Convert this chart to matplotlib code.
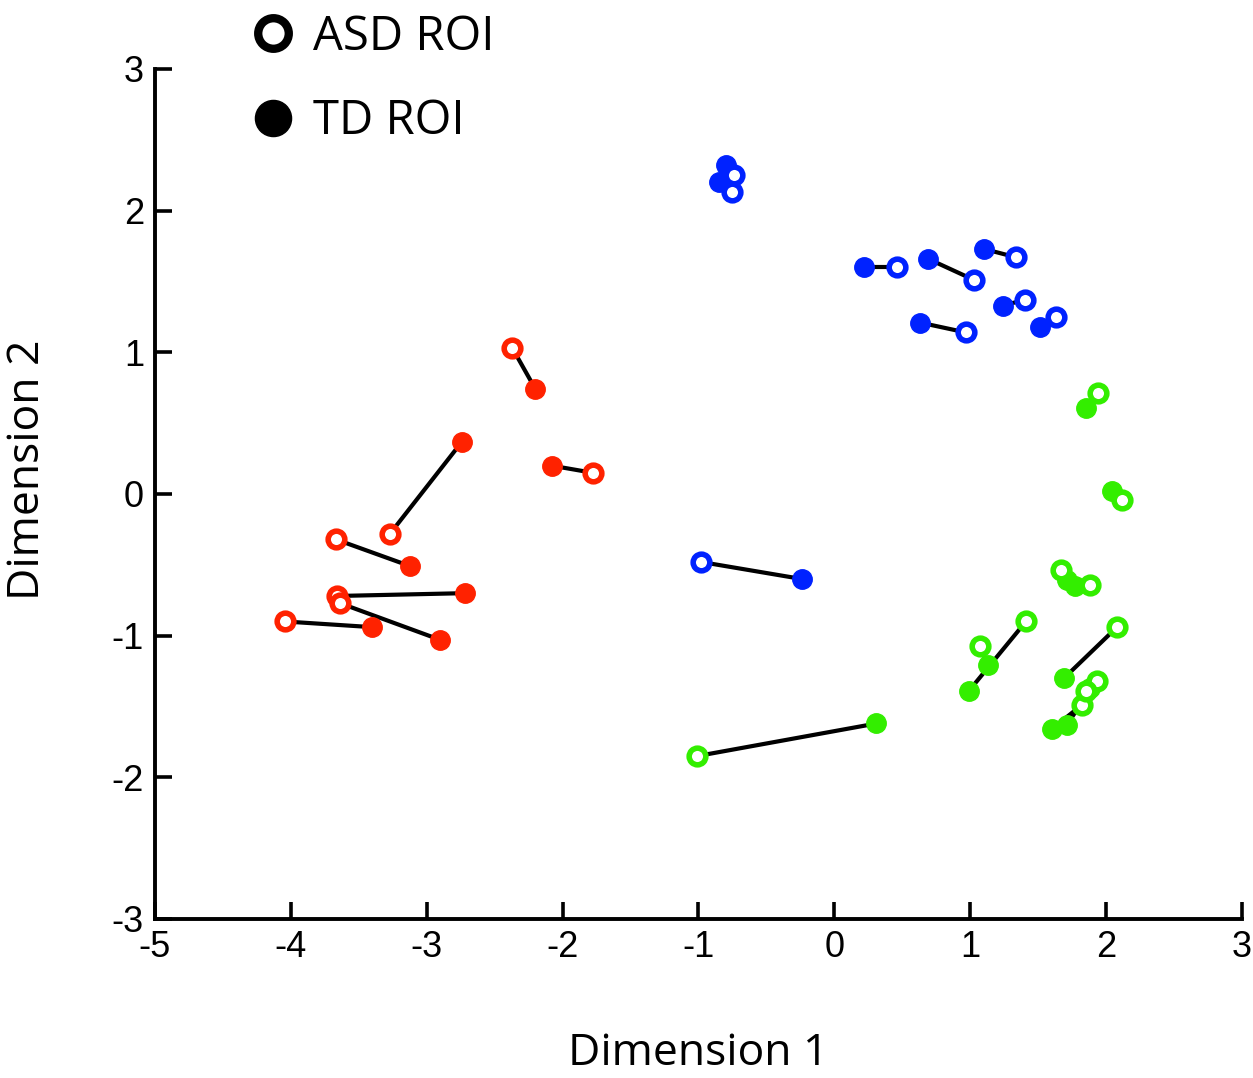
import matplotlib.pyplot as plt
from matplotlib.lines import Line2D

plt.rcParams['axes.unicode_minus'] = False
plt.rcParams['font.family'] = ['Liberation Sans', 'DejaVu Sans']

# paired ROI positions (ASD open, TD filled), one pair per index
red_asd_x = [-2.37, -3.27, -1.78, -3.67, -3.66, -3.64, -4.04]
red_asd_y = [1.03, -0.28, 0.15, -0.32, -0.72, -0.77, -0.90]
red_td_x = [-2.20, -2.74, -2.08, -3.12, -2.72, -2.90, -3.40]
red_td_y = [0.74, 0.37, 0.20, -0.51, -0.70, -1.03, -0.94]

blue_asd_x = [-0.74, -0.75, 0.46, 1.03, 1.34, 1.40, 1.63, 0.97, -0.98]
blue_asd_y = [2.25, 2.13, 1.60, 1.51, 1.67, 1.37, 1.25, 1.14, -0.48]
blue_td_x = [-0.80, -0.85, 0.22, 0.69, 1.10, 1.24, 1.51, 0.63, -0.24]
blue_td_y = [2.32, 2.20, 1.60, 1.66, 1.73, 1.33, 1.18, 1.21, -0.60]

green_asd_x = [1.94, 2.12, 1.67, 1.88, 1.41, 1.07, 2.08, 1.82, 1.93, 1.85, -1.01]
green_asd_y = [0.71, -0.04, -0.54, -0.64, -0.90, -1.07, -0.94, -1.49, -1.32, -1.39, -1.85]
green_td_x = [1.85, 2.04, 1.71, 1.77, 0.99, 1.13, 1.69, 1.60, 1.71, 1.88, 0.31]
green_td_y = [0.61, 0.02, -0.61, -0.65, -1.39, -1.21, -1.30, -1.66, -1.63, -1.37, -1.62]

groups = [
    ('#ff2200', red_asd_x, red_asd_y, red_td_x, red_td_y),
    ('#0022ff', blue_asd_x, blue_asd_y, blue_td_x, blue_td_y),
    ('#33ee00', green_asd_x, green_asd_y, green_td_x, green_td_y),
]

fig = plt.figure(figsize=(12.53, 10.78), dpi=100)
ax = fig.add_axes([0.1237, 0.1475, 0.8675, 0.7885])

# connecting lines first, then TD (filled), then ASD (open) on top
for color, ax_, ay_, tx_, ty_ in groups:
    for a, b, c, d in zip(ax_, ay_, tx_, ty_):
        ax.plot([a, c], [b, d], color='black', lw=3.0, zorder=1)
for color, ax_, ay_, tx_, ty_ in groups:
    ax.plot(tx_, ty_, 'o', color=color, ms=14, mec=color, ls='none', zorder=2)
for color, ax_, ay_, tx_, ty_ in groups:
    ax.plot(ax_, ay_, 'o', mfc='white', mec=color, mew=4, ms=12, ls='none', zorder=3)

ax.set_xlim(-5, 3)
ax.set_ylim(-3, 3)
ax.set_xticks(range(-5, 4))
ax.set_yticks(range(-3, 4))
for s in ['top', 'right']:
    ax.spines[s].set_visible(False)
for s in ['left', 'bottom']:
    ax.spines[s].set_linewidth(2.8)
ax.tick_params(direction='in', length=12, width=2.6, labelsize=26, pad=8)

ax.set_xlabel('Dimension 1', fontsize=32, family='Open Sans', labelpad=48)
ax.set_ylabel('Dimension 2', fontsize=32, family='Open Sans')
ax.yaxis.set_label_coords(-0.097, 0.528)

handles = [
    Line2D([], [], marker='o', ls='none', mfc='white', mec='black', mew=6, ms=22),
    Line2D([], [], marker='o', ls='none', color='black', ms=26),
]
fig.legend(handles, ['ASD ROI', 'TD ROI'], loc='upper left',
           bbox_to_anchor=(0.169, 1.027), frameon=False,
           prop={'family': 'Open Sans', 'size': 34},
           handlelength=0.8, handletextpad=0.45, labelspacing=0.78)

fig.savefig('out.png', dpi=100)
